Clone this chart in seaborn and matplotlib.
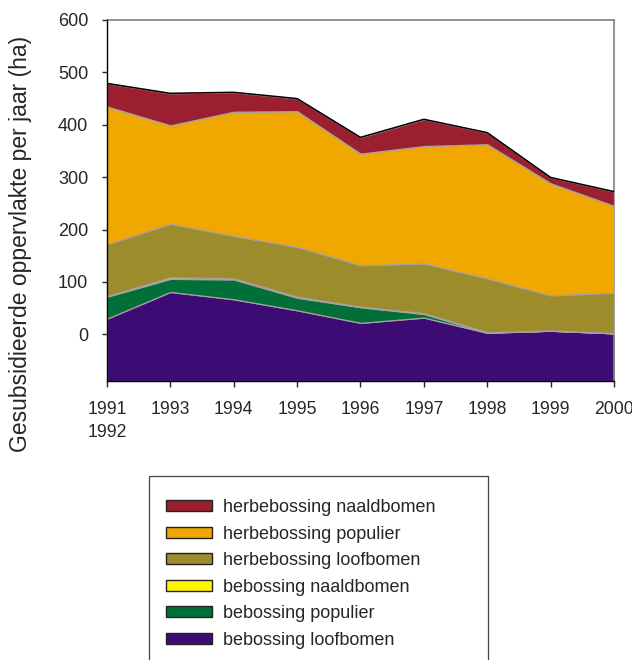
import numpy as np
import matplotlib.pyplot as plt
import seaborn as sns
from matplotlib.patches import Patch, Rectangle

# waarden per jaar (ha)
jaren = ["1991\n1992", "1993", "1994", "1995", "1996", "1997", "1998", "1999", "2000"]
beb_loof = [30, 81, 67, 46, 22, 32, 3, 7, 2]
beb_pop = [42, 25, 38, 24, 30, 7, 0.5, 0, 0]
beb_naald = [1, 3, 2, 2, 1, 1.5, 0.5, 0.5, 0.5]
herb_loof = [99, 102, 81, 95, 79, 95, 103, 67, 77]
herb_pop = [263, 188, 237, 259, 213, 224, 256, 214, 166]
herb_naald = [44, 61, 37, 24, 31, 51, 22, 11, 27]

labels = ["bebossing loofbomen", "bebossing populier", "bebossing naaldbomen",
          "herbebossing loofbomen", "herbebossing populier", "herbebossing naaldbomen"]
colors = ["#3C0C74", "#007038", "#FFF500", "#9C8C2C", "#F0A800", "#9B1F2E"]

sns.set_style("white")
plt.rcParams['font.family'] = ['Liberation Sans', 'DejaVu Sans']

series = np.array([beb_loof, beb_pop, beb_naald, herb_loof, herb_pop, herb_naald], dtype=float)
tops = np.cumsum(series, axis=0)
x = np.arange(len(jaren))
ymin = -89

fig = plt.figure(figsize=(6.32, 6.6), dpi=100)
ax = fig.add_axes([0.1693, 0.4227, 0.8022, 0.547])

bottom = np.full(len(x), ymin, dtype=float)
for i in range(len(labels)):
    ax.fill_between(x, bottom, tops[i], facecolor=colors[i], edgecolor="#a8a0a0",
                    linewidth=0.9, zorder=2 + i)
    bottom = tops[i]
ax.plot(x, tops[-1], color="black", linewidth=1.1, zorder=10)

ax.set_xlim(0, len(x) - 1)
ax.set_ylim(ymin, 600)
ax.set_yticks(range(0, 601, 100))
ax.set_xticks(x)
ax.set_xticklabels(jaren, fontsize=12.7, linespacing=1.45)
ax.tick_params(axis='y', labelsize=13, length=3.6, width=1, direction='out', left=True, pad=10)
ax.tick_params(axis='x', length=4, width=1, direction='out', bottom=True, pad=10.7)
for lab in ax.get_xticklabels():
    lab.set_verticalalignment('top')
ax.set_ylabel("Gesubsidieerde oppervlakte per jaar (ha)", fontsize=16.5)
ax.yaxis.set_label_coords(-0.148, 0.381)

for side in ['left', 'bottom']:
    ax.spines[side].set_color('black')
    ax.spines[side].set_linewidth(1)
for side in ['top', 'right']:
    ax.spines[side].set_color('#808080')
    ax.spines[side].set_linewidth(1.2)
ax.spines['left'].set_zorder(20)

# legendakader loopt door tot onder de rand van de figuur
fig.patches.append(Rectangle((149 / 632, -0.05), (488 - 149) / 632, 0.05 + (660 - 476) / 660,
                             transform=fig.transFigure, facecolor='white',
                             edgecolor='#444444', linewidth=0.9, zorder=0))

handles = [Patch(facecolor=colors[i], edgecolor="#222222", linewidth=1, label=labels[i])
           for i in range(len(labels))][::-1]
leg = fig.legend(handles=handles, loc='upper left',
                 bbox_to_anchor=(166 / 632, 1 - 499 / 660), bbox_transform=fig.transFigure,
                 borderaxespad=0, borderpad=0, fontsize=13, handlelength=2.55,
                 handleheight=0.55, handletextpad=0.6, labelspacing=0.53, frameon=False)

fig.savefig("out.png", dpi=100)
